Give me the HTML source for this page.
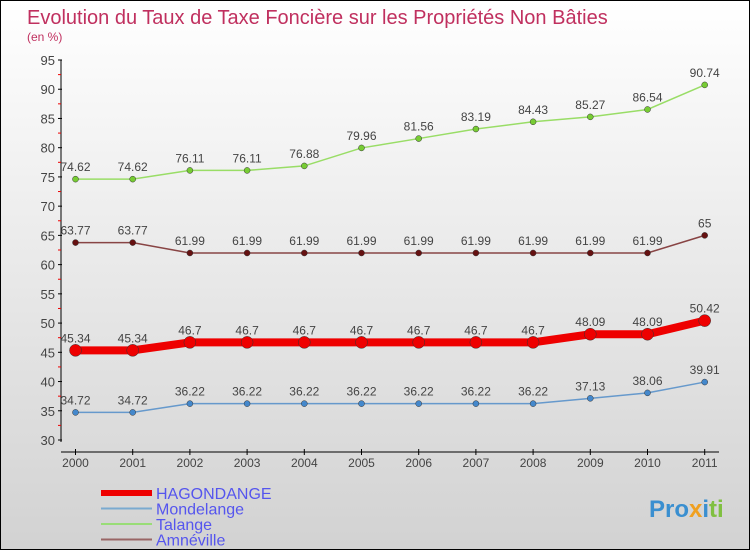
<!DOCTYPE html>
<html><head><meta charset="utf-8"><style>
body{margin:0}
#c{width:750px;height:550px;box-sizing:border-box;border:1px solid #000;background:linear-gradient(#fff,#d2d2d2);position:relative;font-family:"Liberation Sans",sans-serif}
</style></head><body>
<div id="c">
<svg id="s" width="748" height="548" style="position:absolute;left:0;top:0">
<text x="26" y="23" font-size="20" fill="#c0305f">Evolution du Taux de Taxe Foncière sur les Propriétés Non Bâties</text>
<text x="26" y="40" font-size="12" fill="#c0305f">(en %)</text>
<line x1="60" y1="59" x2="60" y2="441" stroke="#000"/>
<line x1="60" y1="451" x2="718" y2="451" stroke="#000"/>
<g id="g"></g>
<text x="648" y="516" font-size="24" font-weight="bold" fill="#3a8fd0">Pro<tspan fill="#f0a020">x</tspan>i<tspan fill="#80c040">ti</tspan></text>
</svg>
</div>
<script>
const years=[2000,2001,2002,2003,2004,2005,2006,2007,2008,2009,2010,2011];
const yTicks=[30,35,40,45,50,55,60,65,70,75,80,85,90,95];
const hagondange=[45.34,45.34,46.7,46.7,46.7,46.7,46.7,46.7,46.7,48.09,48.09,50.42];
const mondelange=[34.72,34.72,36.22,36.22,36.22,36.22,36.22,36.22,36.22,37.13,38.06,39.91];
const talange=[74.62,74.62,76.11,76.11,76.88,79.96,81.56,83.19,84.43,85.27,86.54,90.74];
const amneville=[63.77,63.77,61.99,61.99,61.99,61.99,61.99,61.99,61.99,61.99,61.99,65];
const NS="http://www.w3.org/2000/svg";
const g=document.getElementById('g');
const X=i=>74.5+i*57.2;
const Y=v=>439-(v-30)*(380/65);
function mk(t,a,p){const e=document.createElementNS(NS,t);for(const k in a)e.setAttribute(k,a[k]);(p||g).appendChild(e);return e;}
yTicks.forEach((v,i)=>{
 const t=mk('line',{x1:57,x2:61,y1:Y(v),y2:Y(v),stroke:'#000'});
 
 
 if(i<yTicks.length-1){const m=mk('line',{x1:57,x2:60,y1:Y(v+2.5),y2:Y(v+2.5),stroke:'#e00'});
 
 }
 const l=mk('text',{x:54,y:Y(v)+5,'font-size':13,fill:'#444','text-anchor':'end'});l.textContent=v;
 
 
});
years.forEach((y,i)=>{
 const t=mk('line',{x1:X(i),x2:X(i),y1:448,y2:454,stroke:'#000'});
 
 
 const l=mk('text',{x:X(i),y:466,'font-size':12,fill:'#444','text-anchor':'middle'});l.textContent=y;
 
 
});
function series(vals,color,w,r,fill,name){
 const p=mk('polyline',{points:vals.map((v,i)=>X(i)+','+Y(v)).join(' '),fill:'none',stroke:color,'stroke-width':w});
 
 
 vals.forEach((v,i)=>{
  const c=mk('circle',{cx:X(i),cy:Y(v),r:r,fill:fill,stroke:'#333','stroke-width':0.5});
  
  
  const t=mk('text',{x:X(i),y:Y(v)-8,'font-size':12,fill:'#444','text-anchor':'middle'});t.textContent=v;
  
  
 });
}
series(talange,'#99dd66',1.5,3,'#77cc33','talange');
series(amneville,'#884444',1.5,3,'#661111','amneville');
series(mondelange,'#6699cc',1.5,3,'#4488cc','mondelange');
series(hagondange,'#ee0000',8,6,'#ee0000','hagondange');
const leg=[['HAGONDANGE','#ee0000',6],['Mondelange','#7aaad0',2],['Talange','#99dd77',2],['Amnéville','#996666',2]];
leg.forEach((d,i)=>{
 const yy=492+i*15.5;
 const l=mk('line',{x1:100,x2:151,y1:yy,y2:yy,stroke:d[1],'stroke-width':d[2]});
 
 
 const t=mk('text',{x:155,y:yy+6,'font-size':16,fill:'#5555ee'});t.textContent=d[0];
 
 
});
</script>
</body></html>
